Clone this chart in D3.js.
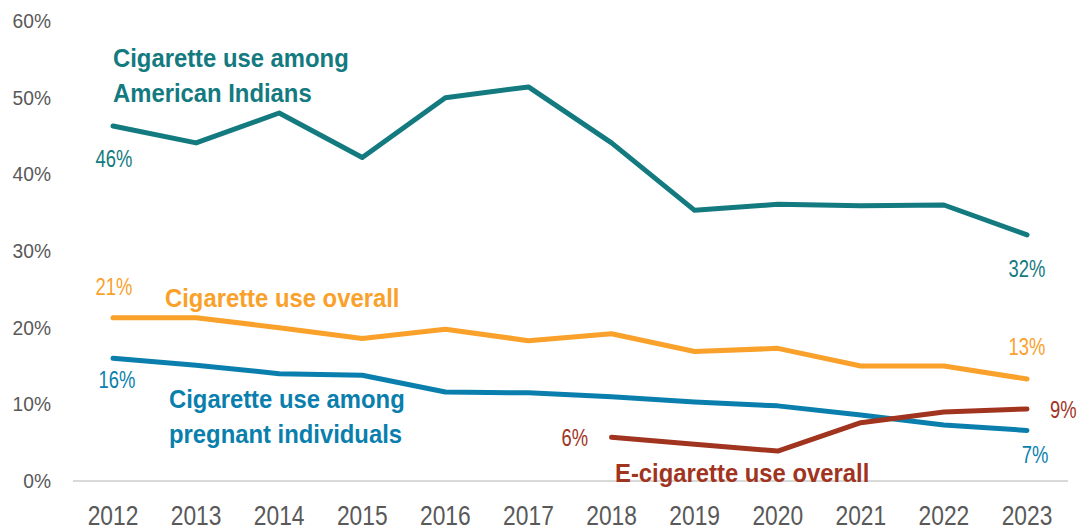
<!DOCTYPE html>
<html><head><meta charset="utf-8">
<script src="https://cdn.jsdelivr.net/npm/d3@7"></script>
<style>
body{margin:0;background:#fff;}
svg text{font-family:"Liberation Sans","Arial",sans-serif;}
</style></head>
<body><svg id="c" width="1078" height="531"></svg>
<script>
const years = [2012,2013,2014,2015,2016,2017,2018,2019,2020,2021,2022,2023];
const americanIndians = [46.3,44.1,48.0,42.2,50.0,51.4,44.1,35.3,36.1,35.9,36.0,32.1];
const cigOverall = [21.3,21.3,20.0,18.6,19.8,18.3,19.2,16.9,17.3,15.0,15.0,13.3];
const pregnant = [16.0,15.1,14.0,13.8,11.6,11.5,11.0,10.3,9.8,8.6,7.3,6.6];
const ecigYears = [2018,2019,2020,2021,2022,2023];
const ecigOverall = [5.7,4.8,3.9,7.6,9.0,9.4];
const yTicks = [0,10,20,30,40,50,60];

const svg = d3.select("#c");
const x = d3.scaleLinear().domain([2012,2023]).range([113,1027]);
const y = d3.scaleLinear().domain([0,60]).range([481,21]);

function txt(t,xx,yy,color,size,bold,anchor,sx,dy){
  svg.append("text").attr("transform",`translate(${xx},${yy}) scale(${sx},1)`)
    .attr("fill",color).attr("dy",dy||null)
    .attr("font-size",size).attr("font-weight",bold?"bold":"normal")
    .attr("text-anchor",anchor||"start").text(t);
}

// baseline
svg.append("line").attr("x1",73).attr("x2",1068).attr("y1",y(0)).attr("y2",y(0))
  .attr("stroke","#d9d9d9").attr("stroke-width",2);

// y ticks
yTicks.forEach(d=>txt(d+"%",51,y(d),"#595959",20,false,"end",0.96,"0.35em"));
// x ticks
years.forEach(d=>txt(String(d),x(d),524.5,"#595959",28.5,false,"middle",0.8));

const line = d3.line().x(d=>x(d[0])).y(d=>y(d[1]));
const series = [
  {yrs:years, vals:americanIndians, color:"#137a7f"},
  {yrs:years, vals:cigOverall, color:"#f9a12b"},
  {yrs:years, vals:pregnant, color:"#0a7fad"},
  {yrs:ecigYears, vals:ecigOverall, color:"#a0341e"}
];
series.forEach(s=>{
  svg.append("path").datum(s.yrs.map((yr,i)=>[yr,s.vals[i]]))
    .attr("d",line).attr("fill","none").attr("stroke",s.color)
    .attr("stroke-width",5).attr("stroke-linecap","round").attr("stroke-linejoin","round");
});

// series labels
const LS=26.5, LX=0.9;
txt("Cigarette use among",113,67,"#137a7f",LS,true,"start",LX);
txt("American Indians",113,102,"#137a7f",LS,true,"start",LX);
txt("Cigarette use overall",165,307,"#f9a12b",LS,true,"start",LX);
txt("Cigarette use among",169,408,"#0a7fad",LS,true,"start",LX);
txt("pregnant individuals",169,443,"#0a7fad",LS,true,"start",LX);
txt("E-cigarette use overall",615,482,"#a0341e",LS,true,"start",LX);

// value labels
const VS=23, VX=0.8;
txt("46%",114,167,"#137a7f",VS,false,"middle",VX);
txt("32%",1027,277,"#137a7f",VS,false,"middle",VX);
txt("21%",114,295,"#f9a12b",VS,false,"middle",VX);
txt("13%",1027,355,"#f9a12b",VS,false,"middle",VX);
txt("16%",117,388,"#0a7fad",VS,false,"middle",VX);
txt("7%",1035,463,"#0a7fad",VS,false,"middle",VX);
txt("6%",588,446,"#a0341e",VS,false,"end",VX);
txt("9%",1050,418,"#a0341e",VS,false,"start",VX);
</script></body></html>
